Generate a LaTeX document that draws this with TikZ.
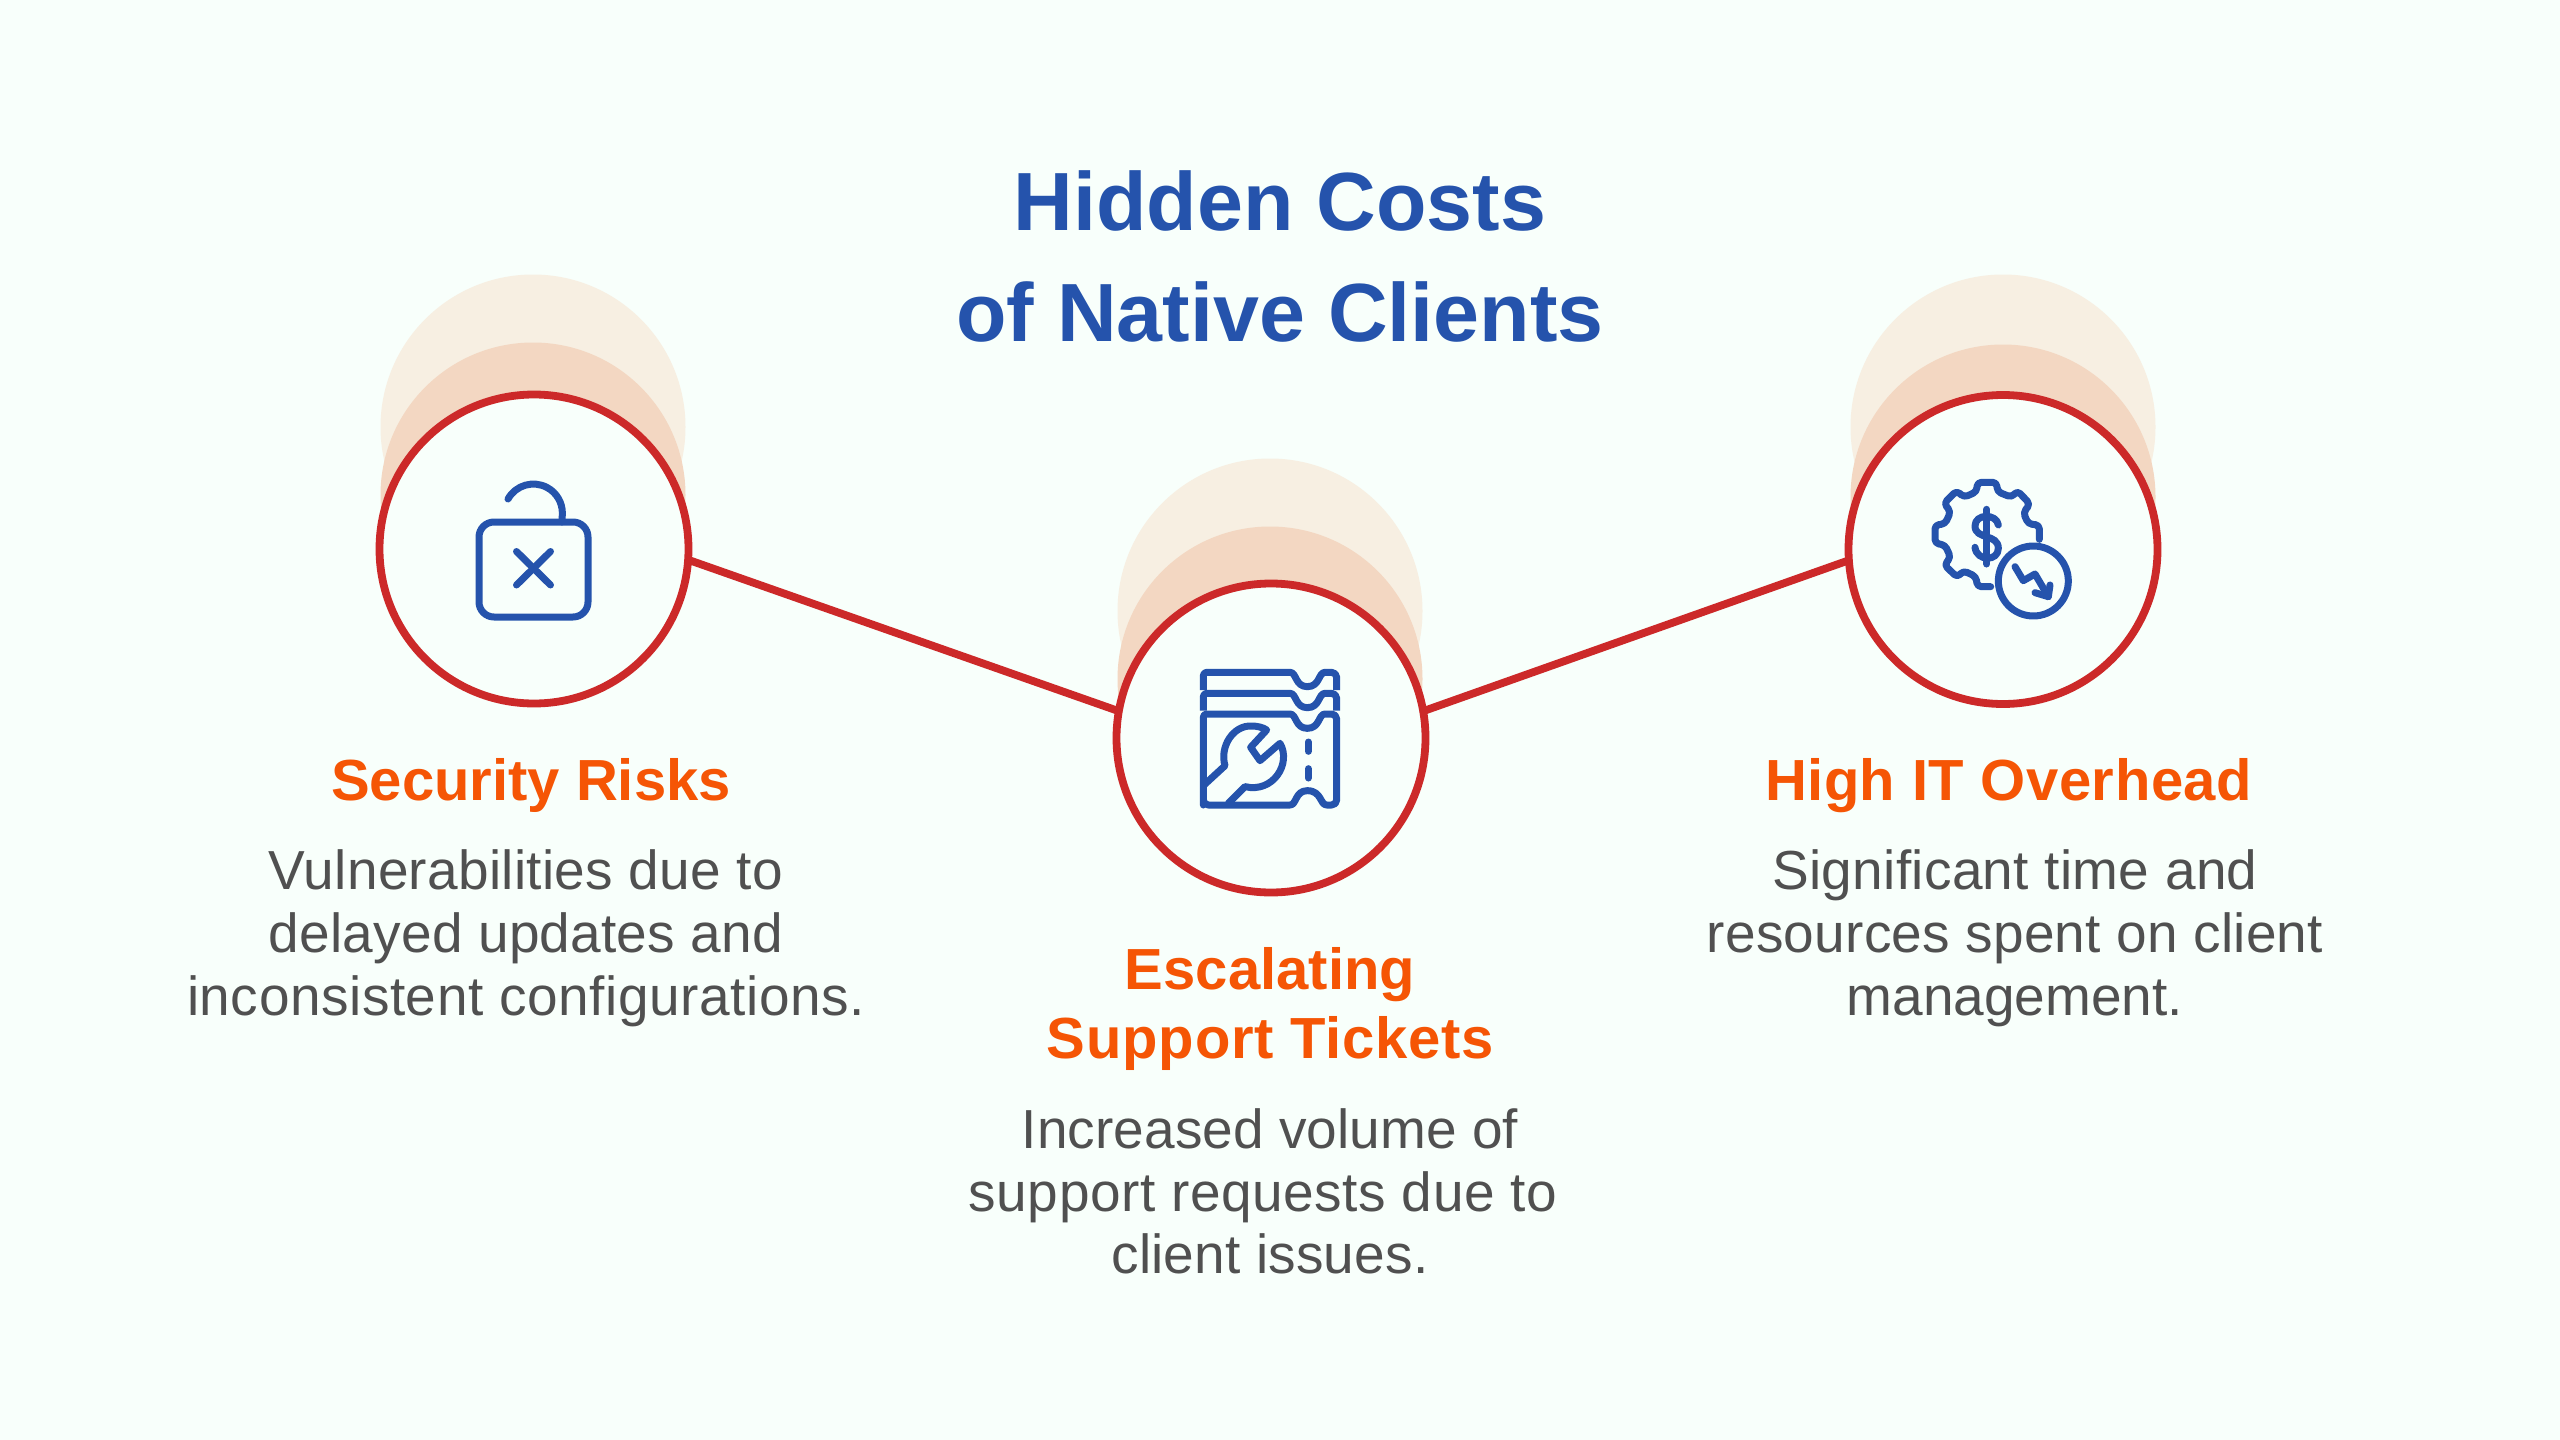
\documentclass[tikz,border=0pt]{standalone}
\usepackage{fontspec}
\setmainfont{Liberation Sans}
\newfontfamily\bodyface{Liberation Sans}
\newcommand\tracked[1]{\addfontfeature{LetterSpace=#1}}
\definecolor{bgc}{HTML}{F8FFFB}
\definecolor{paleA}{HTML}{F7EFE2}
\definecolor{paleB}{HTML}{F3D7C2}
\definecolor{redc}{HTML}{CC2929}
\definecolor{bluec}{HTML}{2553AC}
\definecolor{orangec}{HTML}{F55505}
\definecolor{grayc}{HTML}{505050}
\tikzset{
 halo/.style={circle,minimum size=305*0.5pt,inner sep=0pt,outer sep=0pt},
 hub/.style={circle,minimum size=309*0.5pt,inner sep=0pt,outer sep=0pt,draw=redc,fill=bgc,line width=3.9pt},
 link/.style={draw=redc,line width=3.9pt},
 ico/.style={draw=bluec,line width=3.5pt,line cap=round,line join=round},
 ttl/.style={anchor=base,inner sep=0pt,text=bluec,font=\fontsize{41.3}{41.3}\selectfont\bfseries},
 hd/.style={anchor=base,inner sep=0pt,text=orangec,font=\fontsize{29}{29}\selectfont\bfseries},
 bd/.style={anchor=base,inner sep=0pt,text=grayc,font=\bodyface\fontsize{27.5}{27.5}\selectfont},
}
\begin{document}
\begin{tikzpicture}[x=0.5pt,y=-0.5pt]
\useasboundingbox (0,0) rectangle (2560,1440);
\fill[bgc] (0,0) rectangle (2560,1440);
% halos
\node[halo,fill=paleA] (a1) at (533,427) {};
\node[halo,fill=paleB] (b1) at (533,495) {};
\node[halo,fill=paleA] (a2) at (1270,611) {};
\node[halo,fill=paleB] (b2) at (1270,679) {};
\node[halo,fill=paleA] (a3) at (2003,427) {};
\node[halo,fill=paleB] (b3) at (2003,497) {};
% hubs
\node[hub] (c1) at (534,549) {};
\node[hub] (c2) at (1271,738) {};
\node[hub] (c3) at (2003,549.5) {};
\draw[link] (c1.-4) -- (c2.170);
\draw[link] (c3.184.5) -- (c2.10);
% lock
\draw[ico] (479,537) arc[start angle=180,end angle=270,radius=15] -- (573,522) arc[start angle=270,end angle=360,radius=15] -- (588,602) arc[start angle=0,end angle=90,radius=15] -- (494,617) arc[start angle=90,end angle=180,radius=15] -- cycle;
\draw[ico] (508,499) arc[start angle=209,end angle=360,radius=29] -- (562,522);
\draw[ico] (516.5,551.5) -- (550.5,585);
\draw[ico] (550.5,551.5) -- (516.5,585);
% tickets
\begin{scope}[shift={(1100,640)},scale=1/3]
\draw[ico] (310,495) -- (310,232) arc[start angle=180,end angle=270,radius=10] -- (570,222)
 .. controls (590,222) and (585,265) .. (622,265) .. controls (660,265) and (655,222) .. (675,222)
 -- (695,222) arc[start angle=270,end angle=360,radius=15] -- (710,480) arc[start angle=0,end angle=90,radius=15]
 -- (680,495) .. controls (660,495) and (665,452) .. (622,452) .. controls (585,452) and (590,495) .. (570,495) -- (325,495) arc[start angle=90,end angle=180,radius=15] -- cycle;
\draw[ico,line cap=butt] (310,212) -- (310,170) arc[start angle=180,end angle=270,radius=10] -- (570,160)
 .. controls (590,160) and (585,203) .. (622,203) .. controls (660,203) and (655,160) .. (675,160)
 -- (695,160) arc[start angle=270,end angle=360,radius=15] -- (710,212);
\draw[ico,line cap=butt] (310,150) -- (310,107) arc[start angle=180,end angle=270,radius=10] -- (570,97)
 .. controls (590,97) and (585,140) .. (622,140) .. controls (660,140) and (655,97) .. (675,97)
 -- (695,97) arc[start angle=270,end angle=360,radius=15] -- (710,150);
\draw[ico] (625,306) -- (625,334);
\draw[ico] (625,386) -- (625,414);
\draw[ico] (312,435) -- (375,377) .. controls (358,320) and (400,255) .. (455,258) .. controls (470,258) and (490,262) .. (500,270)
 -- (452,322) -- (480,362) -- (540,310) .. controls (575,370) and (520,460) .. (435,440) -- (385,490);
\end{scope}
% gear
\begin{scope}[shift={(1900,450)},scale=1/3]
\draw[ico,rounded corners=2pt] (272,410) -- (232,410) -- (228,380) -- (190,362) -- (172,382) -- (133,345) -- (152,322) -- (135,285) -- (105,280) -- (105,225) -- (135,222) -- (152,185) -- (132,160) -- (170,122) -- (192,142) -- (230,125) -- (232,97) -- (290,97) -- (292,125) -- (335,142) -- (352,122) -- (390,162) -- (370,188) -- (385,222) -- (418,225) -- (418,268);
\draw[ico] (260,178) -- (260,342);
\draw[ico] (295,225) .. controls (290,190) and (225,190) .. (225,228) .. controls (225,270) and (295,250) .. (295,295) .. controls (295,335) and (230,335) .. (225,292);
\draw[ico] (400,393) circle[radius=105];
\draw[ico] (345,350) -- (370,392) -- (405,372) -- (445,440);
\draw[ico] (405,428) -- (445,440) -- (450,405);
\end{scope}
% text
\node[ttl] (t1) at (1280,230) {Hidden Costs};
\node[ttl] (t2) at (1280,341) {of Native Clients};
\node[hd] (h1) at (531,800.5) {Security Risks};
\node[bd] (l11) at (526,889.5) {\tracked{0.55}Vulnerabilities due to};
\node[bd] (l12) at (526,952.5) {\tracked{0.4}delayed updates and};
\node[bd] (l13) at (526,1015) {\tracked{1.0}inconsistent configurations.};
\node[hd] (h2a) at (1270,989) {Escalating};
\node[hd] (h2b) at (1270.5,1058) {\tracked{1.3}Support Tickets};
\node[bd] (l21) at (1270,1148) {\tracked{0.1}Increased volume of};
\node[bd] (l22) at (1263,1211) {\tracked{1.0}support requests due to};
\node[bd] (l23) at (1270,1273) {\tracked{0.3}client issues.};
\node[hd] (h3) at (2008.5,800.5) {\tracked{0.9}High IT Overhead};
\node[bd] (l31) at (2015,889.5) {\tracked{0.55}Significant time and};
\node[bd] (l32) at (2015,952.5) {\tracked{0.4}resources spent on client};
\node[bd] (l33) at (2015,1015) {\tracked{0}management.};
\end{tikzpicture}
\end{document}
